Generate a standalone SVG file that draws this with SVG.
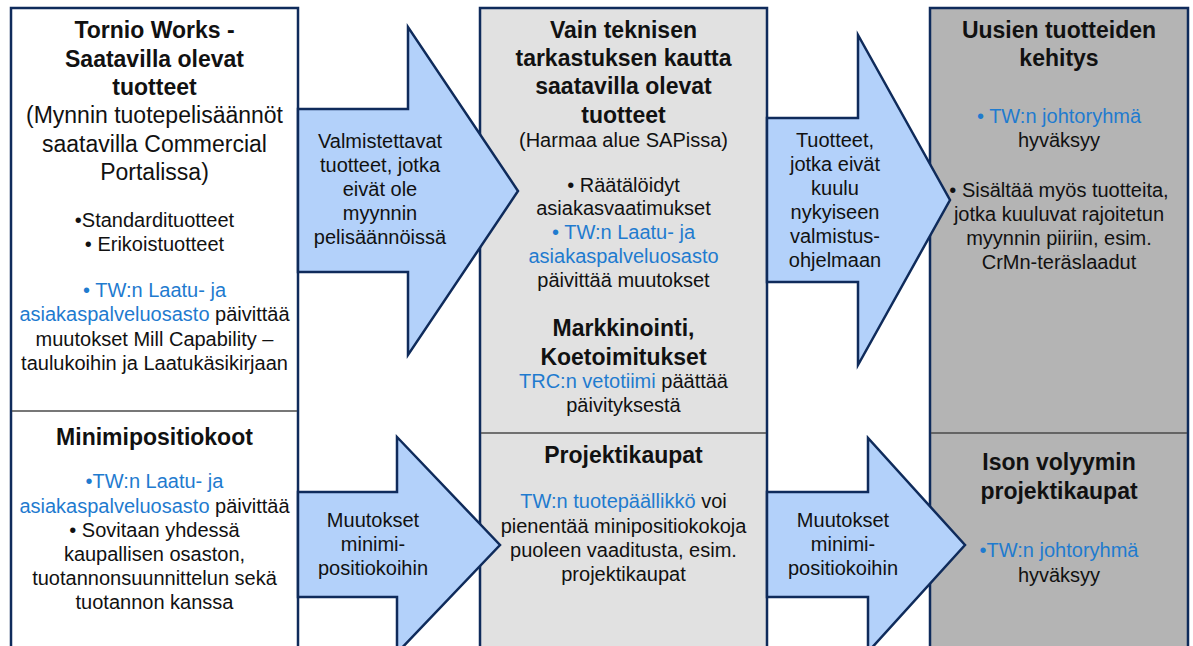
<svg xmlns="http://www.w3.org/2000/svg" width="1193" height="646" viewBox="0 0 1193 646">
<style>
text{font-family:"Liberation Sans",Arial,sans-serif;fill:#111;text-anchor:middle}
.t{font-size:23px;font-weight:bold}
.s{font-size:23px}
.b{font-size:20px}
.bl{fill:#1f7bcf}
.col{stroke:#0f2b5b;stroke-width:2.5}
.div{stroke:#4a4a4a;stroke-width:1.5}
.arr{fill:#b3d1fa;stroke:#0f2b5b;stroke-width:2.5;stroke-linejoin:miter}
</style>
<rect width="1193" height="646" fill="#fff"/>

<g id="node-tornio-works">
<rect class="col" x="11" y="8" width="287" height="660" fill="#fff"/>
<text class="t" x="154.5" y="38">Tornio Works -</text>
<text class="t" x="154.5" y="67">Saatavilla olevat</text>
<text class="t" x="154.5" y="95">tuotteet</text>
<text class="s" x="154.5" y="123">(Mynnin tuotepelisäännöt</text>
<text class="s" x="154.5" y="151.5">saatavilla Commercial</text>
<text class="s" x="154.5" y="180">Portalissa)</text>
<text class="b" x="154.5" y="227">•Standardituotteet</text>
<text class="b" x="154.5" y="251">• Erikoistuotteet</text>
<text class="b bl" x="154.5" y="297">• TW:n Laatu- ja</text>
<text class="b" x="154.5" y="321"><tspan class="bl">asiakaspalveluosasto</tspan> päivittää</text>
<text class="b" x="154.5" y="346">muutokset Mill Capability –</text>
<text class="b" x="154.5" y="370">taulukoihin ja Laatukäsikirjaan</text>
</g>

<g id="node-minimipositiokoot">
<line class="div" x1="12" y1="411" x2="297" y2="411"/>
<text class="t" x="154.5" y="445">Minimipositiokoot</text>
<text class="b bl" x="154.5" y="488">•TW:n Laatu- ja</text>
<text class="b" x="154.5" y="513"><tspan class="bl">asiakaspalveluosasto</tspan> päivittää</text>
<text class="b" x="154.5" y="537">• Sovitaan yhdessä</text>
<text class="b" x="154.5" y="561">kaupallisen osaston,</text>
<text class="b" x="154.5" y="585">tuotannonsuunnittelun sekä</text>
<text class="b" x="154.5" y="609">tuotannon kanssa</text>
</g>

<g id="node-tekninen-tarkastus">
<rect class="col" x="480" y="8" width="287" height="660" fill="#e1e1e1"/>
<text class="t" x="623.5" y="38">Vain teknisen</text>
<text class="t" x="623.5" y="66">tarkastuksen kautta</text>
<text class="t" x="623.5" y="94">saatavilla olevat</text>
<text class="t" x="623.5" y="122.5">tuotteet</text>
<text class="b" x="623.5" y="147">(Harmaa alue SAPissa)</text>
<text class="b" x="623.5" y="192">• Räätälöidyt</text>
<text class="b" x="623.5" y="215">asiakasvaatimukset</text>
<text class="b bl" x="623.5" y="239">• TW:n Laatu- ja</text>
<text class="b bl" x="623.5" y="263">asiakaspalveluosasto</text>
<text class="b" x="623.5" y="287">päivittää muutokset</text>
<text class="t" x="623.5" y="336">Markkinointi,</text>
<text class="t" x="623.5" y="365">Koetoimitukset</text>
<text class="b" x="623.5" y="388"><tspan class="bl">TRC:n vetotiimi</tspan> päättää</text>
<text class="b" x="623.5" y="412">päivityksestä</text>
</g>

<g id="node-projektikaupat">
<line class="div" x1="481" y1="433" x2="766" y2="433"/>
<text class="t" x="623.5" y="463">Projektikaupat</text>
<text class="b" x="623.5" y="508"><tspan class="bl">TW:n tuotepäällikkö</tspan> voi</text>
<text class="b" x="623.5" y="533">pienentää minipositiokokoja</text>
<text class="b" x="623.5" y="557">puoleen vaaditusta, esim.</text>
<text class="b" x="623.5" y="581">projektikaupat</text>
</g>

<g id="node-uusien-tuotteiden-kehitys">
<rect class="col" x="930" y="8" width="258" height="660" fill="#b4b4b4"/>
<text class="t" x="1059" y="38">Uusien tuotteiden</text>
<text class="t" x="1059" y="66">kehitys</text>
<text class="b bl" x="1059" y="123">• TW:n johtoryhmä</text>
<text class="b" x="1059" y="147">hyväksyy</text>
<text class="b" x="1059" y="197">• Sisältää myös tuotteita,</text>
<text class="b" x="1059" y="221">jotka kuuluvat rajoitetun</text>
<text class="b" x="1059" y="245">myynnin piiriin, esim.</text>
<text class="b" x="1059" y="269">CrMn-teräslaadut</text>
</g>

<g id="node-ison-volyymin-projektikaupat">
<line class="div" x1="931" y1="433" x2="1187" y2="433"/>
<text class="t" x="1059" y="470">Ison volyymin</text>
<text class="t" x="1059" y="499">projektikaupat</text>
<text class="b bl" x="1059" y="557">•TW:n johtoryhmä</text>
<text class="b" x="1059" y="582">hyväksyy</text>
</g>

<g id="connectors">
<path class="arr" d="M298,109 H408 V27 L518,191 L408,355 V272 H298 Z"/>
<text class="b" x="380" y="148">Valmistettavat</text>
<text class="b" x="380" y="172">tuotteet, jotka</text>
<text class="b" x="380" y="196">eivät ole</text>
<text class="b" x="380" y="220">myynnin</text>
<text class="b" x="380" y="244">pelisäännöissä</text>

<path class="arr" d="M298,492 H397 V437 L500,545 L397,653 V597 H298 Z"/>
<text class="b" x="373" y="527">Muutokset</text>
<text class="b" x="373" y="551">minimi-</text>
<text class="b" x="373" y="575">positiokoihin</text>

<path class="arr" d="M767,118 H858 V35 L950,200 L858,365 V282 H767 Z"/>
<text class="b" x="835" y="147">Tuotteet,</text>
<text class="b" x="835" y="171">jotka eivät</text>
<text class="b" x="835" y="195">kuulu</text>
<text class="b" x="835" y="219">nykyiseen</text>
<text class="b" x="835" y="243">valmistus-</text>
<text class="b" x="835" y="267">ohjelmaan</text>

<path class="arr" d="M767,492 H868 V438 L965,545 L868,652 V597 H767 Z"/>
<text class="b" x="843" y="527">Muutokset</text>
<text class="b" x="843" y="551">minimi-</text>
<text class="b" x="843" y="575">positiokoihin</text>
</g>
</svg>
